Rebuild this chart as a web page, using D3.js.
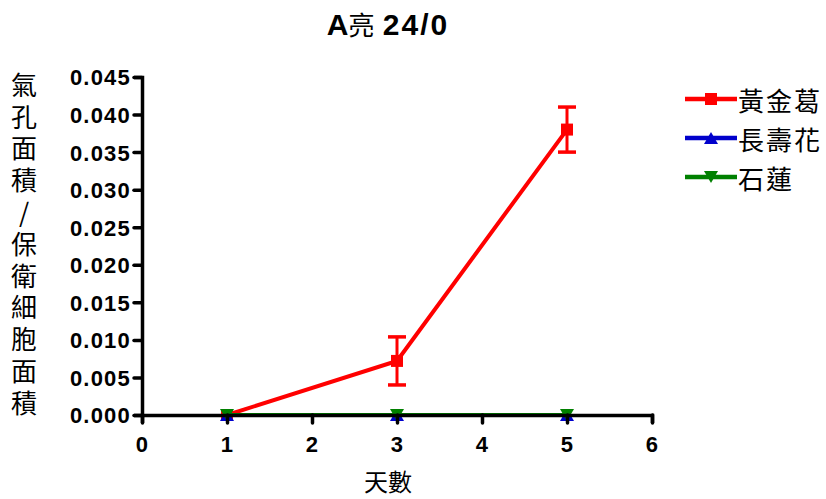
<!DOCTYPE html>
<html>
<head>
<meta charset="utf-8">
<script src="https://cdn.jsdelivr.net/npm/d3@7"></script>
<style>
  body { margin: 0; background: #fff; }
  svg { display: block; }
  .tick text { font-family: Arial, "Liberation Sans", sans-serif; font-weight: bold; font-size: 22px; letter-spacing: 1.2px; fill: #000; }
  .ylab { writing-mode: vertical-rl; text-orientation: upright; }
</style>
</head>
<body>
<svg id="chart" width="826" height="499"></svg>
<script>
// Days measured
const days = [1, 3, 5];
// Stomatal area / guard cell area, mean and error per species
const seriesNames = ["黃金葛", "長壽花", "石蓮"];
const pothosMean = [0.0, 0.0072, 0.0380];
const pothosErr = [0.0, 0.0032, 0.0030];
const kalanchoeMean = [0.0, 0.0, 0.0];
const echeveriaMean = [0.0, 0.0, 0.0];
const seriesColors = ["#ff0000", "#0000cc", "#008000"];
const xTicks = [0, 1, 2, 3, 4, 5, 6];
const yTicks = [0, 0.005, 0.010, 0.015, 0.020, 0.025, 0.030, 0.035, 0.040, 0.045];
const titleText = "A亮  24/0";
const xLabel = "天數";
const yLabel = "氣孔面積/保衛細胞面積";

const cjk = '"Noto Sans CJK TC", "Noto Sans CJK SC", sans-serif';
const latin = 'Arial, "Liberation Sans", sans-serif';
const svg = d3.select("#chart");
const x = d3.scaleLinear().domain([0, 6]).range([142, 652]);
const y = d3.scaleLinear().domain([0, 0.045]).range([415, 77]);

// Triangles centred on their bounding box (up or down)
function triangle(w, h, down) {
  const s = down ? -1 : 1;
  return `M0,${-s * h / 2}L${w / 2},${s * h / 2}L${-w / 2},${s * h / 2}Z`;
}
function square(a) {
  return `M${-a / 2},${-a / 2}h${a}v${a}h${-a}Z`;
}

const series = [
  { name: seriesNames[0], color: seriesColors[0], mean: pothosMean, err: pothosErr, shape: square(12) },
  { name: seriesNames[1], color: seriesColors[1], mean: kalanchoeMean, err: null, shape: triangle(14, 12, false) },
  { name: seriesNames[2], color: seriesColors[2], mean: echeveriaMean, err: null, shape: triangle(14, 12, true) }
];

// Series: error bars, lines, markers
series.forEach(s => {
  const g = svg.append("g");
  const pts = days.map((d, i) => ({ d, v: s.mean[i], e: s.err ? s.err[i] : 0 }));
  if (s.err) {
    pts.filter(p => p.e > 0).forEach(p => {
      g.append("line").attr("x1", x(p.d)).attr("x2", x(p.d))
        .attr("y1", y(p.v + p.e)).attr("y2", y(p.v - p.e))
        .attr("stroke", s.color).attr("stroke-width", 3);
      [p.v + p.e, p.v - p.e].forEach(v => {
        g.append("line").attr("x1", x(p.d) - 9).attr("x2", x(p.d) + 9)
          .attr("y1", y(v)).attr("y2", y(v))
          .attr("stroke", s.color).attr("stroke-width", 3.5);
      });
    });
  }
  g.append("path").datum(pts)
    .attr("d", d3.line().x(p => x(p.d)).y(p => y(p.v)))
    .attr("fill", "none").attr("stroke", s.color).attr("stroke-width", 4);
  g.selectAll("path.m").data(pts).join("path").attr("class", "m")
    .attr("d", s.shape)
    .attr("transform", p => `translate(${x(p.d)},${y(p.v)})`)
    .attr("fill", s.color);
});

// Axes
const xAxis = svg.append("g").attr("transform", "translate(0,415)")
  .call(d3.axisBottom(x).tickValues(xTicks).tickFormat(d3.format("d")).tickSizeOuter(0).tickSize(8).tickPadding(13));
const yAxis = svg.append("g").attr("transform", "translate(142,0)")
  .call(d3.axisLeft(y).tickValues(yTicks).tickFormat(d3.format(".3f")).tickSizeOuter(0).tickSize(8).tickPadding(3));
[xAxis, yAxis].forEach(a => {
  a.select(".domain").attr("stroke", "#000").attr("stroke-width", 3.5);
  a.selectAll(".tick line").attr("stroke", "#000").attr("stroke-width", 3.5).attr("stroke-linecap", "round");
});
yAxis.selectAll(".tick text").attr("dy", "0.36em");
xAxis.selectAll(".tick text").attr("dy", "0.72em");

// Title: Latin glyphs bold, CJK glyph regular
const isCJK = c => /[\u4e00-\u9fff]/.test(c);
const title = svg.append("text").attr("x", 388).attr("y", 35).attr("text-anchor", "middle")
  .attr("font-size", 30);
title.selectAll("tspan").data(Array.from(titleText)).join("tspan")
  .attr("font-family", c => isCJK(c) ? cjk : latin)
  .attr("font-weight", c => isCJK(c) ? "normal" : "bold")
  .attr("font-size", c => isCJK(c) ? 26 : 30)
  .attr("letter-spacing", c => /[0-9\/]/.test(c) ? 2 : 0)
  .text(c => c);

// X-axis title
svg.append("text").attr("x", 388).attr("y", 491).attr("text-anchor", "middle")
  .attr("font-family", cjk).attr("font-size", 24).text(xLabel);

// Y-axis title, set vertically
svg.append("text").attr("class", "ylab")
  .attr("x", 24).attr("y", 72)
  .attr("font-family", cjk).attr("font-size", 26)
  .attr("letter-spacing", 5.8)
  .text(yLabel);

// Legend
const legend = svg.append("g");
series.forEach((s, i) => {
  const ly = 99 + i * 39;
  legend.append("line").attr("x1", 685).attr("x2", 737).attr("y1", ly).attr("y2", ly)
    .attr("stroke", s.color).attr("stroke-width", 4.5);
  legend.append("path").attr("d", s.shape)
    .attr("transform", `translate(711,${ly})`).attr("fill", s.color);
  legend.append("text").attr("x", 738).attr("y", ly).attr("dominant-baseline", "central")
    .attr("letter-spacing", 2)
    .attr("font-family", cjk).attr("font-size", 26).text(s.name);
});
</script>
</body>
</html>
